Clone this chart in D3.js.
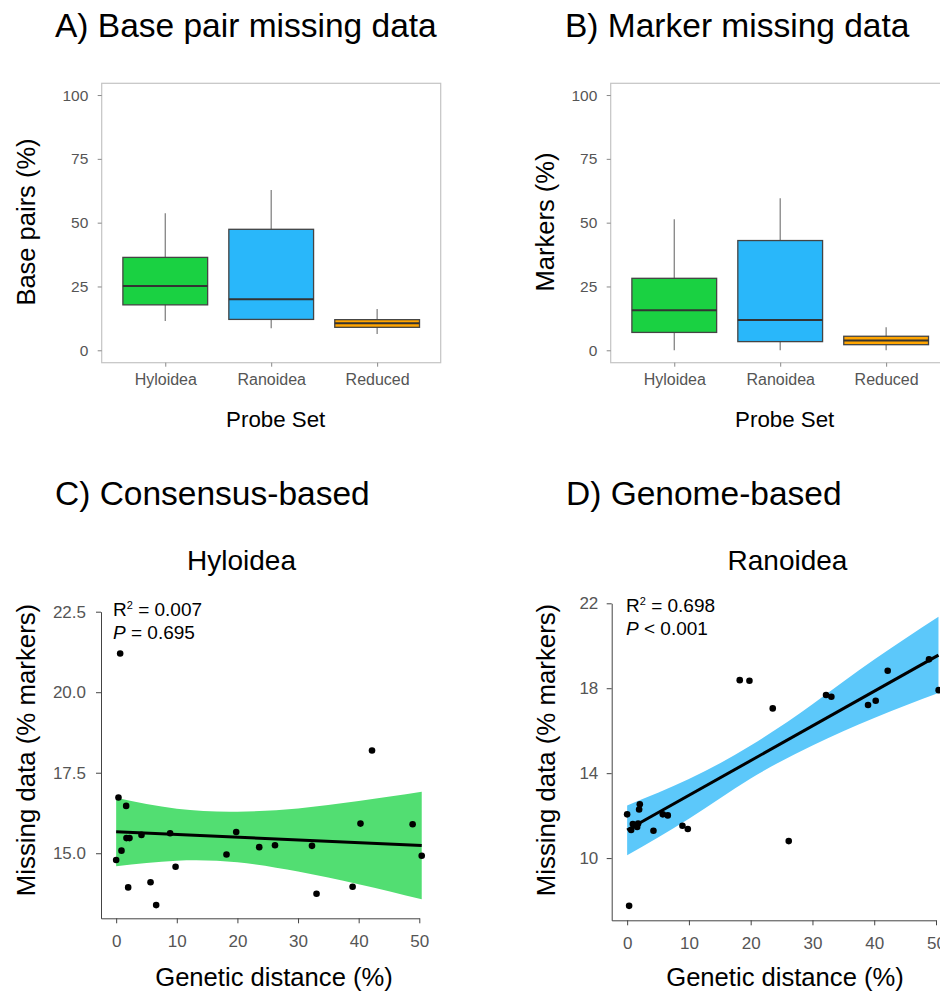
<!DOCTYPE html>
<html>
<head>
<meta charset="utf-8">
<script src="https://cdn.jsdelivr.net/npm/d3@7"></script>
<style>
body { margin: 0; background: #fff; }
svg { display: block; font-family: "Liberation Sans", Arial, Helvetica, sans-serif; }
</style>
</head>
<body>
<svg id="figure"></svg>
<script>
const width = 940;
const height = 994;

// Box plot data: [lower whisker, Q1, median, Q3, upper whisker]
const probeSets = ["Hyloidea", "Ranoidea", "Reduced"];
const basePairStats = [
    [11.5, 17.8, 25.2, 36.4, 53.7],
    [8.6, 12.1, 20.0, 47.4, 62.8],
    [6.4, 9.0, 10.6, 12.0, 16.2]
];
const markerStats = [
    [0, 7.0, 15.7, 28.2, 51.3],
    [0, 3.4, 11.9, 43.0, 59.6],
    [0, 2.2, 3.8, 5.5, 9.0]
];
const boxTicks = [0, 25, 50, 75, 100];

// Hyloidea (consensus-based) scatter
const hyloDistance = [0.38, 1.65, 1.7, 2.2, 4.18, 8.9, 0.88, 0, 9.8, 1.98, 5.67, 6.6,
    18.2, 19.8, 23.6, 26.2, 32.3, 33.05, 39.0, 40.3, 48.9, 50.4, 0.66, 42.2];
const hyloMissing = [16.73, 16.47, 15.47, 15.47, 15.57, 15.62, 15.08, 14.79, 14.58, 13.94, 14.1, 13.39,
    14.96, 15.66, 15.19, 15.25, 15.23, 13.74, 13.96, 15.92, 15.9, 14.92, 21.2, 18.19];
const hyloFitX = [0, 50.4];
const hyloFitY = [15.67, 15.24];
const hyloBandX = [0, 10, 20, 30, 40, 50.4];
const hyloBandUpper = [16.72, 16.38, 16.29, 16.39, 16.62, 16.91];
const hyloBandLower = [14.6, 14.77, 14.72, 14.43, 14.04, 13.57];
const hyloYTicks = [15, 17.5, 20, 22.5];

// Ranoidea (genome-based) scatter
const ranoDistance = [0, 0.32, 0.65, 0.92, 1.62, 1.78, 1.94, 2.05, 4.26, 5.77, 6.58, 8.95,
    9.82, 18.23, 19.8, 23.57, 26.16, 32.2, 33.06, 39.0, 40.24, 42.18, 48.87, 50.43];
const ranoMissing = [12.06, 7.75, 11.32, 11.6, 11.47, 11.63, 12.29, 12.53, 11.29, 12.06, 12.01, 11.52,
    11.37, 18.38, 18.35, 17.05, 10.8, 17.68, 17.6, 17.21, 17.41, 18.82, 19.36, 17.91];
const ranoFitX = [0, 50.4];
const ranoFitY = [11.32, 19.56];
const ranoBandX = [0, 10, 20, 30, 40, 50.4];
const ranoBandUpper = [12.48, 13.72, 15.3, 17.25, 19.35, 21.37];
const ranoBandLower = [10.13, 11.85, 13.75, 15.3, 16.6, 17.77];
const ranoYTicks = [10, 14, 18, 22];

const distTicks = [0, 10, 20, 30, 40, 50];

const green = "#1ad142", blue = "#29b7fa", orange = "#ffa500";

const svg = d3.select("#figure")
    .attr("width", width)
    .attr("height", height);

// ---- Box plot panels (A, B) ----
const boxPanels = [
    { stats: basePairStats, left: 101.7, title: "A) Base pair missing data", titleX: 55,
      yLabel: "Base pairs (%)", yLabelX: 34.5 },
    { stats: markerStats, left: 610.7, title: "B) Marker missing data", titleX: 565,
      yLabel: "Markers (%)", yLabelX: 553.5 }
];
const boxFill = [green, blue, orange];
const frameW = 339, frameTop = 83.3, frameBottom = 362.7;

boxPanels.forEach(p => {
    const g = svg.append("g");
    const x = d3.scalePoint().domain(probeSets).range([p.left, p.left + frameW]).padding(0.6);
    const y = d3.scaleLinear().domain([-4.86, 104.6]).range([frameBottom, frameTop]);

    g.append("rect")
        .attr("x", p.left).attr("y", frameTop)
        .attr("width", frameW).attr("height", frameBottom - frameTop)
        .attr("fill", "none").attr("stroke", "#c4c4c4").attr("stroke-width", 1.2);

    const ya = g.append("g")
        .attr("transform", `translate(${p.left},0)`)
        .call(d3.axisLeft(y).tickValues(boxTicks).tickSize(4).tickPadding(9.4));
    ya.select(".domain").remove();
    ya.selectAll("line").attr("stroke", "#888");
    ya.selectAll("text").attr("fill", "#555").style("font-size", "15.5px");

    const xa = g.append("g")
        .attr("transform", `translate(0,${frameBottom})`)
        .call(d3.axisBottom(x).tickSize(4).tickPadding(7.4));
    xa.select(".domain").remove();
    xa.selectAll("line").attr("stroke", "#888");
    xa.selectAll("text").attr("fill", "#555").style("font-size", "16px");

    const bw = x.step() * 0.8;
    const box = g.append("g").selectAll("g")
        .data(p.stats.map((s, i) => ({ name: probeSets[i], s, fill: boxFill[i] })))
        .join("g");
    box.append("line")
        .attr("x1", d => x(d.name)).attr("x2", d => x(d.name))
        .attr("y1", d => y(d.s[0])).attr("y2", d => y(d.s[4]))
        .attr("stroke", "#7a7a7a").attr("stroke-width", 1.2);
    box.append("rect")
        .attr("x", d => x(d.name) - bw / 2).attr("width", bw)
        .attr("y", d => y(d.s[3])).attr("height", d => y(d.s[1]) - y(d.s[3]))
        .attr("fill", d => d.fill).attr("stroke", "#444").attr("stroke-width", 1.3);
    box.append("line")
        .attr("x1", d => x(d.name) - bw / 2).attr("x2", d => x(d.name) + bw / 2)
        .attr("y1", d => y(d.s[2])).attr("y2", d => y(d.s[2]))
        .attr("stroke", "#333").attr("stroke-width", 2);

    g.append("text")
        .attr("x", p.titleX).attr("y", 37)
        .style("font-size", "33.5px").attr("fill", "#000")
        .text(p.title);
    g.append("text")
        .attr("transform", `translate(${p.yLabelX},222) rotate(-90)`)
        .attr("text-anchor", "middle")
        .style("font-size", "25.5px")
        .text(p.yLabel);
    g.append("text")
        .attr("x", p.left + frameW / 2 + 4.5).attr("y", 427)
        .attr("text-anchor", "middle")
        .style("font-size", "22.3px")
        .text("Probe Set");
});

// ---- Scatter panels (C, D) ----
const scatterPanels = [
    { dist: hyloDistance, miss: hyloMissing, fitX: hyloFitX, fitY: hyloFitY,
      bandX: hyloBandX, up: hyloBandUpper, low: hyloBandLower, band: "#52de72",
      left: 101, right: 419.3, top: 611.7, bottom: 918.3, yDomain: [12.98, 22.5],
      yTicks: hyloYTicks, yFormat: d3.format(".1f"), yPad: 10,
      title: "C) Consensus-based", titleX: 55, sub: "Hyloidea", subX: 241.5,
      r2: "= 0.007", p: "= 0.695", annX: 113, annY: 616, yLabelX: 35.3, xLabelX: 274 },
    { dist: ranoDistance, miss: ranoMissing, fitX: ranoFitX, fitY: ranoFitY,
      bandX: ranoBandX, up: ranoBandUpper, low: ranoBandLower, band: "#5cc8fa",
      left: 611.7, right: 936, top: 603.3, bottom: 920.3, yDomain: [7.07, 22],
      yTicks: ranoYTicks, yFormat: d3.format("d"), yPad: 8.4,
      title: "D) Genome-based", titleX: 566, sub: "Ranoidea", subX: 787.5,
      r2: "= 0.698", p: "< 0.001", annX: 626, annY: 611.7, yLabelX: 555.3, xLabelX: 785 }
];

scatterPanels.forEach(p => {
    const g = svg.append("g");
    const x = d3.scaleLinear().domain([-2.5, 50]).range([p.left, p.right]);
    const y = d3.scaleLinear().domain(p.yDomain).range([p.bottom, p.top]);

    const bandData = p.bandX.map((v, i) => ({ x: v, up: p.up[i], low: p.low[i] }));
    g.append("path")
        .datum(bandData)
        .attr("fill", p.band)
        .attr("d", d3.area()
            .x(d => x(d.x)).y0(d => y(d.low)).y1(d => y(d.up))
            .curve(d3.curveNatural));

    g.append("path")
        .datum(p.fitX.map((v, i) => [v, p.fitY[i]]))
        .attr("fill", "none").attr("stroke", "#000").attr("stroke-width", 3)
        .attr("d", d3.line().x(d => x(d[0])).y(d => y(d[1])));

    g.append("g").selectAll("circle")
        .data(p.dist.map((v, i) => [v, p.miss[i]]))
        .join("circle")
        .attr("cx", d => x(d[0])).attr("cy", d => y(d[1]))
        .attr("r", 3.3).attr("fill", "#000");

    const ya = g.append("g")
        .attr("transform", `translate(${p.left},0)`)
        .call(d3.axisLeft(y).tickValues(p.yTicks).tickFormat(p.yFormat)
            .tickSize(5).tickSizeOuter(0).tickPadding(p.yPad));
    const xa = g.append("g")
        .attr("transform", `translate(0,${p.bottom})`)
        .call(d3.axisBottom(x).tickValues(distTicks).tickSize(5).tickSizeOuter(0).tickPadding(12));
    [ya, xa].forEach(a => {
        a.selectAll("line, .domain").attr("stroke", "#444");
        a.selectAll("text").attr("fill", "#555").style("font-size", "17px");
    });

    g.append("text")
        .attr("x", p.titleX).attr("y", 505)
        .style("font-size", "33.5px")
        .text(p.title);
    g.append("text")
        .attr("x", p.subX).attr("y", 570)
        .attr("text-anchor", "middle")
        .style("font-size", "28px")
        .text(p.sub);

    const r2 = g.append("text")
        .attr("x", p.annX).attr("y", p.annY)
        .style("font-size", "19px");
    r2.append("tspan").text("R");
    r2.append("tspan").attr("dy", -7).style("font-size", "11px").text("2");
    r2.append("tspan").attr("dy", 7).text(" " + p.r2);
    const pt = g.append("text")
        .attr("x", p.annX).attr("y", p.annY + 23)
        .style("font-size", "19px");
    pt.append("tspan").style("font-style", "italic").text("P");
    pt.append("tspan").text(" " + p.p);

    g.append("text")
        .attr("transform", `translate(${p.yLabelX},750) rotate(-90)`)
        .attr("text-anchor", "middle")
        .style("font-size", "25.8px")
        .text("Missing data (% markers)");
    g.append("text")
        .attr("x", p.xLabelX).attr("y", 986)
        .attr("text-anchor", "middle")
        .style("font-size", "25.6px")
        .text("Genetic distance (%)");
});
</script>
</body>
</html>
